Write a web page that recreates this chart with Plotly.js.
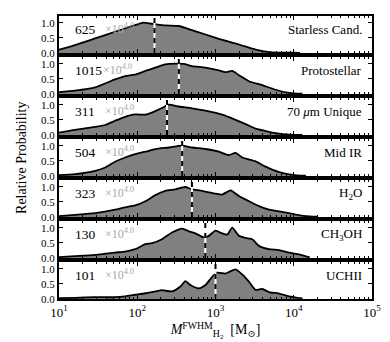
<!DOCTYPE html>
<html>
<head>
<meta charset="utf-8">
<script src="https://cdn.plot.ly/plotly-3.0.1.min.js"></script>
<style>html,body{margin:0;padding:0;background:#fff}</style>
</head>
<body>
<div id="chart" style="width:390px;height:342px"></div>
<script>
// mass distributions, one panel per sample (top to bottom)
var names = ['Starless Cand.', 'Protostellar', '70 <i>μ</i>m Unique', 'Mid IR', 'H<sub>2</sub>O', 'CH<sub>3</sub>OH', 'UCHII'];
var counts = [625, 1015, 311, 504, 323, 130, 101];
var medians = [166, 340, 240, 375, 500, 740, 1000];

var mStarless = [10, 16, 29, 52, 94, 120, 140, 170, 228, 339, 455, 744, 1220, 1990, 3260, 4820, 8700, 12000];
var pStarless = [0.11, 0.26, 0.48, 0.70, 0.92, 1.0, 0.98, 0.95, 0.91, 0.89, 0.79, 0.61, 0.43, 0.28, 0.11, 0.03, 0.01, 0.0];

var mProto = [10, 16, 29, 52, 70, 94, 127, 170, 228, 307, 393, 502, 744, 1104, 1343, 1636, 1991, 2674, 3962, 5871, 8699, 12900];
var pProto = [0.06, 0.11, 0.22, 0.48, 0.59, 0.64, 0.76, 0.87, 0.98, 1.0, 0.99, 0.92, 0.87, 0.78, 0.72, 0.76, 0.62, 0.42, 0.29, 0.14, 0.04, 0.01];

var m70 = [10, 16, 29, 39, 52, 70, 94, 127, 154, 207, 252, 339, 502, 744, 1218, 1805, 2424, 3255, 4372, 5871, 8699, 12900];
var p70 = [0.08, 0.17, 0.27, 0.33, 0.47, 0.60, 0.68, 0.67, 0.74, 0.89, 1.0, 0.94, 0.88, 0.80, 0.67, 0.50, 0.36, 0.21, 0.13, 0.06, 0.01, 0.0];

var mMidIR = [10, 16, 29, 39, 52, 70, 94, 127, 170, 252, 374, 502, 744, 1104, 1483, 1805, 2196, 3255, 4372, 6477, 9600, 14300];
var pMidIR = [0.03, 0.06, 0.17, 0.28, 0.47, 0.61, 0.72, 0.80, 0.89, 0.94, 1.0, 0.94, 0.89, 0.80, 0.69, 0.76, 0.61, 0.48, 0.31, 0.13, 0.04, 0.01];

var mH2O = [10, 16, 29, 52, 70, 94, 127, 170, 228, 307, 412, 478, 675, 1000, 1218, 1557, 1991, 2674, 3591, 4823, 7146, 10600, 14300, 20000];
var pH2O = [0.03, 0.07, 0.13, 0.24, 0.32, 0.38, 0.52, 0.72, 0.86, 0.91, 0.99, 0.93, 0.86, 0.77, 0.74, 0.88, 0.69, 0.52, 0.36, 0.24, 0.17, 0.08, 0.03, 0.01];

var mCH3OH = [10, 16, 29, 39, 52, 70, 94, 127, 154, 207, 278, 374, 455, 554, 708, 822, 1000, 1218, 1412, 1636, 1991, 2424, 2950, 3591, 4823, 6477, 8699, 11700, 16000];
var pCH3OH = [0.03, 0.06, 0.10, 0.14, 0.18, 0.21, 0.29, 0.46, 0.49, 0.62, 0.84, 0.97, 0.88, 0.81, 0.68, 0.73, 0.90, 0.81, 0.77, 1.0, 0.73, 0.66, 0.62, 0.40, 0.29, 0.26, 0.18, 0.12, 0.02];

var mUCHII = [10, 16, 29, 52, 70, 94, 127, 170, 207, 278, 356, 412, 478, 611, 744, 906, 1050, 1343, 1483, 1805, 2196, 2674, 3255, 3962, 4823, 6477, 8699, 12900];
var pUCHII = [0.03, 0.04, 0.06, 0.06, 0.09, 0.14, 0.19, 0.25, 0.29, 0.25, 0.41, 0.59, 0.46, 0.35, 0.46, 0.73, 0.87, 0.84, 0.89, 0.98, 0.81, 0.57, 0.30, 0.33, 0.23, 0.18, 0.09, 0.02];

var masses = [mStarless, mProto, m70, mMidIR, mH2O, mCH3OH, mUCHII];
var probs = [pStarless, pProto, p70, pMidIR, pH2O, pCH3OH, pUCHII];

var xTickVals = [10, 100, 1000, 10000, 100000];
var xTickText = ['10<sup>1</sup>', '10<sup>2</sup>', '10<sup>3</sup>', '10<sup>4</sup>', '10<sup>5</sup>'];

var serif = 'Liberation Serif, DejaVu Serif, serif';
var yTop = 1.22;

var data = [];
var layout = {
  width: 390, height: 342,
  margin: {l: 59, r: 18, t: 16, b: 43},
  paper_bgcolor: 'white', plot_bgcolor: 'white',
  showlegend: false,
  font: {family: serif, size: 12, color: 'black'},
  annotations: []
};

for (var i = 0; i < 7; i++) {
  var n = i + 1;
  var xa = 'x' + (n === 1 ? '' : n), ya = 'y' + (n === 1 ? '' : n);
  data.push({
    x: masses[i], y: probs[i], xaxis: xa, yaxis: ya,
    mode: 'lines', fill: 'tozeroy', fillcolor: '#808080',
    line: {color: 'black', width: 1.8, shape: 'spline', smoothing: 0.6},
    hoverinfo: 'skip'
  });
  data.push({
    x: [medians[i], medians[i]], y: [0, yTop], xaxis: xa, yaxis: ya,
    mode: 'lines', line: {color: 'white', width: 2}, hoverinfo: 'skip'
  });
  data.push({
    x: [medians[i], medians[i]], y: [0, yTop], xaxis: xa, yaxis: ya,
    mode: 'lines', line: {color: 'black', width: 2, dash: '5px,5px'}, hoverinfo: 'skip'
  });

  var dTop = 1 - 41 * i / 283, dBot = dTop - 37 / 283;
  layout['xaxis' + (n === 1 ? '' : n)] = {
    type: 'log', range: [1, 5], anchor: ya,
    tickvals: xTickVals, ticktext: xTickText,
    showticklabels: n === 7,
    ticks: 'inside', ticklen: 4, tickwidth: 1, tickcolor: 'black',
    minor: {ticks: 'inside', ticklen: 2, tickwidth: 1, tickcolor: 'black', dtick: 'D1'},
    showline: true, linewidth: 2, linecolor: 'black', mirror: 'ticks',
    showgrid: false, zeroline: false,
    tickfont: {family: serif, size: 13}
  };
  layout['yaxis' + (n === 1 ? '' : n)] = {
    domain: [dBot, dTop], range: [0, yTop], anchor: xa,
    tickvals: [0, 0.5, 1.0], tickformat: '.1f',
    ticks: 'inside', ticklen: 4, tickwidth: 1, tickcolor: 'black',
    showline: true, linewidth: 2, linecolor: 'black', mirror: 'ticks',
    showgrid: false, zeroline: false,
    tickfont: {family: serif, size: 11}
  };

  layout.annotations.push({
    xref: 'paper', yref: ya, x: 0.045, y: 0.77, xanchor: 'left', yanchor: 'middle',
    text: String(counts[i]), showarrow: false, font: {family: serif, size: 13.5, color: 'black'}
  });
  layout.annotations.push({
    xref: 'paper', yref: ya, x: counts[i] >= 1000 ? 0.134 : 0.142, y: 0.8, xanchor: 'left', yanchor: 'middle',
    text: '×10<sup>4.0</sup>', showarrow: false, font: {family: serif, size: 12, color: '#a8a8a8'}
  });
  layout.annotations.push({
    xref: 'paper', yref: ya, x: 0.975, y: 0.77, xanchor: 'right', yanchor: 'middle',
    text: names[i], showarrow: false, font: {family: serif, size: 13, color: 'black'}
  });
}

layout.xaxis7.title = {text: '<i>M</i><sup>FWHM</sup><sub>H<sub>2</sub></sub>  [M<sub>⊙</sub>]', font: {family: serif, size: 14}, standoff: 3};

layout.annotations.push({
  xref: 'paper', yref: 'paper', x: -0.12, y: 0.5, xanchor: 'center', yanchor: 'middle',
  text: 'Relative Probability', textangle: -90, showarrow: false, font: {family: serif, size: 14, color: 'black'}
});

Plotly.newPlot('chart', data, layout, {displayModeBar: false, staticPlot: true});
</script>
</body>
</html>
